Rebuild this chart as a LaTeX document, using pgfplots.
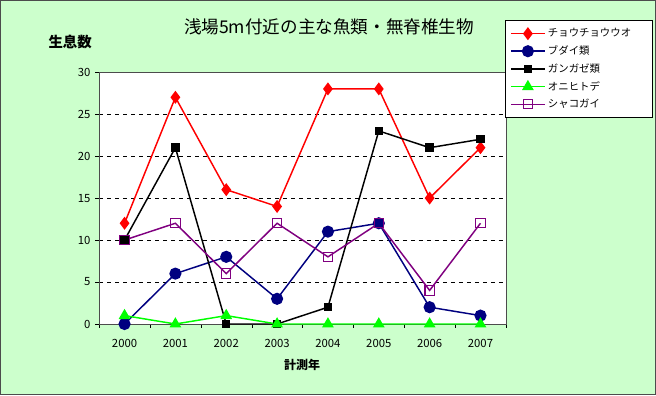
\documentclass[border=0pt]{standalone}
\usepackage{pgfplots}
\pgfplotsset{compat=1.18}
\usepackage{fontspec}
\setmainfont{Noto Sans CJK JP}
\definecolor{bgg}{HTML}{CCFFCC}
\definecolor{navyb}{HTML}{000080}
\definecolor{purp}{HTML}{800080}
\definecolor{grn}{HTML}{00FF00}
\begin{document}
\begin{tikzpicture}[x=0.75pt,y=0.75pt]
\fill[bgg] (0,0) rectangle (656,395);
\draw[black!70,line width=1pt] (0.5,0.5) rectangle (655.5,394.5);
\node[font=\fontsize{13.2}{15}\selectfont] at (329,368) {浅場5m付近の主な魚類・無脊椎生物};
\node[font=\fontsize{10.8}{12}\selectfont\bfseries] at (70,353) {生息数};
\node[font=\fontsize{9}{11}\selectfont\bfseries] at (302,30) {計測年};
\begin{axis}[
  at={(74.25pt,53.25pt)}, anchor=south west,
  width=305.25pt, height=189pt, scale only axis,
  xmin=-0.5, xmax=7.5, ymin=0, ymax=30,
  xtick={0,...,7}, xticklabels={2000,2001,2002,2003,2004,2005,2006,2007},
  minor xtick={-0.5,0.5,...,7.5},
  ytick={0,5,...,30},
  ymajorgrids, grid style={black, dashed, line width=0.5pt},
  major x tick style={draw=none},
  minor x tick style={black},
  minor tick length=3pt,
  major tick length=3pt,
  tick align=outside,
  ytick style={black},
  xtick pos=bottom, ytick pos=left,
  xticklabel style={yshift=-5pt},
  axis background/.style={fill=white},
  axis line style={black!70},
  tick label style={font=\fontsize{8.5}{10}\selectfont},
  /pgf/number format/assume math mode=true,
  clip=false,
  legend style={at={(0.9975,1.206)}, anchor=north west, draw=black,
    font=\fontsize{7.8}{9}\selectfont, fill=white, row sep=1.2pt,
    inner xsep=4pt, inner ysep=4pt, text width=72pt},
  legend image code/.code={\draw[mark repeat=2,mark phase=2] plot coordinates {(0cm,0cm)(0.44cm,0cm)(0.88cm,0cm)};},
  legend cell align=left,
  every axis plot/.append style={line width=1.1pt},
]
\addplot[red, mark=diamond*, mark size=4pt, mark options={fill=red}] coordinates {(0,12)(1,27)(2,16)(3,14)(4,28)(5,28)(6,15)(7,21)};
\addlegendentry{チョウチョウウオ}
\addplot[navyb, mark=*, mark size=4pt, mark options={fill=navyb}] coordinates {(0,0)(1,6)(2,8)(3,3)(4,11)(5,12)(6,2)(7,1)};
\addlegendentry{ブダイ類}
\addplot[black, mark=square*, mark size=2.6pt] coordinates {(0,10)(1,21)(2,0)(3,0)(4,2)(5,23)(6,21)(7,22)};
\addlegendentry{ガンガゼ類}
\addplot[grn, mark=triangle*, mark size=4pt, mark options={fill=grn}] coordinates {(0,1)(1,0)(2,1)(3,0)(4,0)(5,0)(6,0)(7,0)};
\addlegendentry{オニヒトデ}
\addplot[purp, mark=square, mark size=3.5pt, mark options={line width=0.8pt}] coordinates {(0,10)(1,12)(2,6)(3,12)(4,8)(5,12)(6,4)(7,12)};
\addlegendentry{シャコガイ}
\end{axis}
\end{tikzpicture}
\end{document}
